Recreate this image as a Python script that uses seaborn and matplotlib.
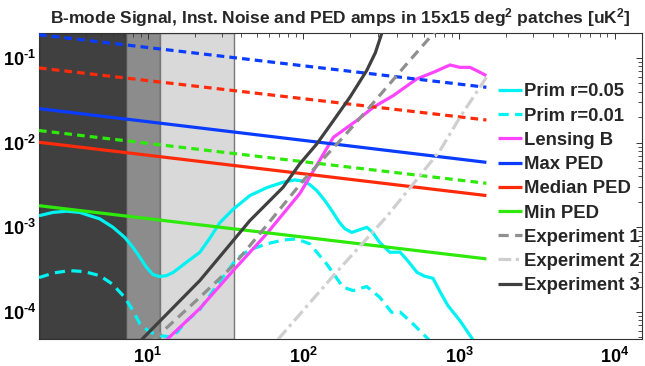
import numpy as np
import pandas as pd
import seaborn as sns
import matplotlib
matplotlib.use("Agg")
import matplotlib.pyplot as plt
from matplotlib.ticker import FixedLocator, FixedFormatter, LogLocator, NullFormatter

# ---------------- data ----------------
ell_ped = [2, 1500]
max_ped = [0.0252, 0.00585]
max_ped_dash = [0.188, 0.045]
med_ped = [0.0101, 0.00237]
med_ped_dash = [0.0762, 0.0185]
min_ped = [0.0018, 0.000424]
min_ped_dash = [0.0139, 0.00331]

ell_r05 = [2, 2.46, 3.0, 3.66, 4.24, 4.91, 5.98, 7.11, 8.04, 8.89, 9.81, 10.8, 11.9, 13.2,
           14.6, 17.7, 21.6, 25.0, 29.0, 35.2, 45.3, 58.2, 73.8, 88.1, 100, 110, 122, 138,
           155, 170, 185, 205, 231, 256, 280, 310, 360, 418, 470, 537, 600, 681, 760, 849,
           1014, 1230, 1500]
prim_r05 = [1.37e-3, 1.50e-3, 1.55e-3, 1.50e-3, 1.37e-3, 1.26e-3, 1.0e-3, 7.6e-4, 5.8e-4,
            4.43e-4, 3.37e-4, 2.77e-4, 2.62e-4, 2.69e-4, 2.94e-4, 3.86e-4, 5.07e-4, 7.4e-4,
            1.13e-3, 1.62e-3, 2.37e-3, 2.94e-3, 3.40e-3, 3.63e-3, 3.50e-3, 3.19e-3, 2.71e-3,
            2.05e-3, 1.50e-3, 1.15e-3, 9.6e-4, 8.7e-4, 9.4e-4, 1.0e-3, 8.6e-4, 6.6e-4,
            5.07e-4, 5.1e-4, 4.0e-4, 2.94e-4, 2.65e-4, 2.5e-4, 1.7e-4, 1.19e-4,
            7.9e-5, 4.7e-5, 2.7e-5]

ell_r01 = [2, 2.5, 3.15, 3.9, 4.91, 5.9, 7.11, 8.0, 8.89, 10.3, 11.9, 13.8, 15.5, 17.3, 21.6,
           29.0, 37.2, 45.0, 57.9, 75.0, 90.4, 110, 141, 180, 209, 255, 310, 369, 418,
           508, 619, 755]
prim_r01 = [2.55e-4, 2.9e-4, 3.08e-4, 3.0e-4, 2.69e-4, 2.15e-4, 1.49e-4, 1.05e-4, 7.3e-5,
            5.8e-5, 5.26e-5, 5.1e-5, 5.8e-5, 7.5e-5, 1.07e-4, 2.29e-4, 4.24e-4, 5.4e-4,
            6.37e-4, 7.1e-4, 7.3e-4, 6.37e-4, 3.70e-4, 1.96e-4, 1.79e-4, 2.0e-4, 1.49e-4,
            9.9e-5, 1.0e-4, 7.2e-5, 5.0e-5, 3.5e-5]

ell_lens = [12.5, 13.2, 21.6, 35.4, 58.0, 94.8, 156, 220, 281, 378, 535, 684, 875, 1014,
            1178, 1300, 1500]
lens_b = [4.2e-5, 4.69e-5, 1.10e-4, 3.08e-4, 8.36e-4, 2.50e-3, 0.01156, 0.0182, 0.0261,
          0.0359, 0.0565, 0.0676, 0.0826, 0.0774, 0.0774, 0.0708, 0.0618]

ell_exp1 = [10.9, 21.6, 35.4, 58.0, 99.6, 180, 255, 343, 461, 651, 813]
exp1 = [4.7e-5, 1.49e-4, 3.53e-4, 1.05e-3, 3.56e-3, 0.01156, 0.0239, 0.0450, 0.0849, 0.175, 0.275]

ell_exp2 = [68.5, 156, 343, 508, 755, 1014, 1500]
exp2 = [4.72e-5, 2.69e-4, 1.34e-3, 3.25e-3, 8.05e-3, 0.0199, 0.059]

ell_exp3 = [9.1, 21.6, 35.4, 45.3, 74.1, 94.8, 122, 156, 199, 255, 290, 318, 360]
exp3 = [4.69e-5, 2.35e-4, 6.97e-4, 1.20e-3, 2.97e-3, 5.61e-3, 9.66e-3, 0.0182, 0.0343,
        0.0708, 0.115, 0.192, 0.36]

regions = [(2, 7.2), (7.2, 12), (12, 36)]
region_colors = ["#404040", "#8c8c8c", "#d9d9d9"]
region_edges = ["#2a2a2a", "#555555", "#777777"]

xticks = [10, 100, 1000, 10000]
xticklabels = [r"$\mathbf{10^{1}}$", r"$\mathbf{10^{2}}$", r"$\mathbf{10^{3}}$", r"$\mathbf{10^{4}}$"]
yticks = [1e-4, 1e-3, 1e-2, 1e-1]
yticklabels = [r"$\mathbf{10^{\text{-}4}}$", r"$\mathbf{10^{\text{-}3}}$",
               r"$\mathbf{10^{\text{-}2}}$", r"$\mathbf{10^{\text{-}1}}$"]

title = r"B-mode Signal, Inst. Noise and PED amps in 15x15 deg$^\mathbf{2}$ patches [uK$^\mathbf{2}$]"

# ---------------- style ----------------
sns.set_style("white")
plt.rcParams["font.family"] = ["Liberation Sans", "DejaVu Sans"]
plt.rcParams["font.weight"] = "bold"
plt.rcParams["mathtext.fontset"] = "custom"
plt.rcParams["mathtext.rm"] = "Liberation Sans:bold"
plt.rcParams["mathtext.bf"] = "Liberation Sans:bold"
plt.rcParams["mathtext.it"] = "Liberation Sans:bold"

fig = plt.figure(figsize=(6.45, 3.66), dpi=100)
ax = fig.add_axes([39 / 645, 1 - 339 / 366, (642 - 39) / 645, (339 - 33) / 366])

for (a, b), c, e in zip(regions, region_colors, region_edges):
    ax.axvspan(a, b, facecolor=c, edgecolor=e, lw=1.0, zorder=0)

LW = 2.3
handles = []
labels = []


def draw(x, y, color, label=None, ls="-", z=3):
    n0 = len(ax.lines)
    sns.lineplot(x=x, y=y, ax=ax, color=color, lw=LW, linestyle=ls, sort=False,
                 estimator=None, legend=False, zorder=z)
    ln = ax.lines[n0]
    ln.set_solid_capstyle("butt")
    ln.set_dash_capstyle("butt")
    ln.set_solid_joinstyle("round")
    if label is not None:
        handles.append(ln)
        labels.append(label)
    return ln


ped_dash = (0, (2.4, 1.6))
draw(ell_r05, prim_r05, "#00f2f2", "Prim r=0.05")
draw(ell_r01, prim_r01, "#00f2f2", "Prim r=0.01", ls=(0, (3.2, 2.0)))
draw(ell_lens, lens_b, "#ff44ff", "Lensing B")
draw(ell_ped, max_ped, "#0a3cff", "Max PED")
draw(ell_ped, med_ped, "#ff2a0a", "Median PED")
draw(ell_ped, min_ped, "#2eea0a", "Min PED")
draw(ell_ped, max_ped_dash, "#0a3cff", ls=ped_dash)
draw(ell_ped, med_ped_dash, "#ff2a0a", ls=ped_dash)
draw(ell_ped, min_ped_dash, "#2eea0a", ls=ped_dash)
draw(ell_exp1, exp1, "#8f8f8f", "Experiment 1", ls=(0, (3.2, 2.0)))
draw(ell_exp2, exp2, "#cfcfcf", "Experiment 2", ls=(0, (4.0, 1.4, 1.0, 1.4)))
draw(ell_exp3, exp3, "#404040", "Experiment 3")

ax.set_xscale("log")
ax.set_yscale("log")
ax.set_xlim(2, 1.5e4)
ax.set_ylim(4.8e-5, 0.197)

ax.xaxis.set_major_locator(FixedLocator(xticks))
ax.xaxis.set_major_formatter(FixedFormatter(xticklabels))
ax.yaxis.set_major_locator(FixedLocator(yticks))
ax.yaxis.set_major_formatter(FixedFormatter(yticklabels))
ax.xaxis.set_minor_locator(LogLocator(base=10, subs=np.arange(2, 10), numticks=20))
ax.yaxis.set_minor_locator(LogLocator(base=10, subs=np.arange(2, 10), numticks=20))
ax.xaxis.set_minor_formatter(NullFormatter())
ax.yaxis.set_minor_formatter(NullFormatter())
ax.tick_params(which="both", direction="in", top=True, right=True, colors="#333333",
               labelcolor="black", labelsize=13)
ax.tick_params(which="major", length=4.5, width=0.7)
ax.tick_params(which="minor", length=3, width=0.6)
ax.tick_params(axis="x", pad=6)
ax.tick_params(axis="y", pad=2)
for s in ax.spines.values():
    s.set_color("#333333")
    s.set_linewidth(0.8)

ax.set_title(title, fontsize=12.5, fontweight="bold", pad=7)

leg = ax.legend(handles, labels, loc="upper left", bbox_to_anchor=(0.762, 0.835),
                frameon=False, fontsize=13.3, handlelength=1.25, handletextpad=0.12,
                labelspacing=0.39, borderpad=0, borderaxespad=0)
for t in leg.get_texts():
    t.set_fontweight("bold")

fig.savefig("out.png", dpi=100)
